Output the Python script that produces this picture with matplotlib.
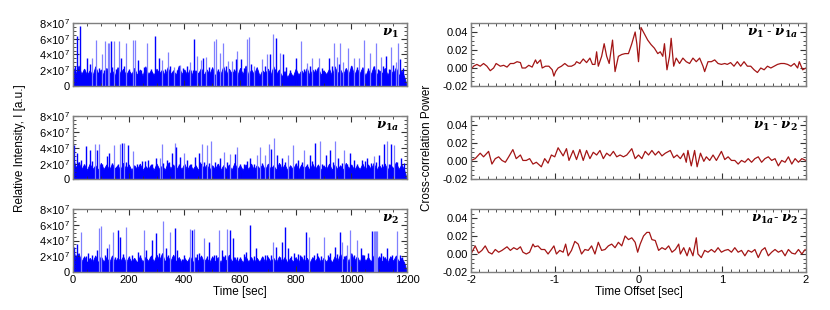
import numpy as np
import matplotlib
matplotlib.use('Agg')
import matplotlib.pyplot as plt
from matplotlib.ticker import MultipleLocator, FuncFormatter

plt.rcParams['font.family'] = ['Liberation Sans', 'DejaVu Sans']
plt.rcParams['mathtext.fontset'] = 'custom'
plt.rcParams['mathtext.rm'] = 'Liberation Sans'
plt.rcParams['mathtext.it'] = 'Liberation Sans:italic'
plt.rcParams['axes.unicode_minus'] = False

# ---------------- data: time series (relative intensity, units of 1e7) ----------------
# dense background level, sampled every 10 s
floor_step_sec = 10
floor_v1 = [2.4, 1.6, 2.6, 1.5, 2.2, 1.4, 2.0, 1.3, 2.5, 1.6, 2.1,
            1.4, 2.3, 1.5, 2.0, 1.3, 2.4, 1.6, 2.2, 1.4, 2.0,
            1.5, 2.3, 1.4, 2.1, 1.3, 2.5, 1.5, 2.0, 1.4, 2.2,
            1.6, 2.1, 1.3, 2.4, 1.5, 2.0, 1.4, 2.6, 1.5, 2.1,
            1.4, 2.2, 1.3, 2.0, 1.6, 2.3, 1.4, 2.1, 1.5, 2.4,
            1.3, 2.0, 1.5, 2.5, 1.4, 2.2, 1.6, 2.0, 1.3, 2.3,
            1.5, 2.6, 1.4, 2.1, 1.5, 2.4, 1.3, 2.0, 1.6, 2.2,
            1.4, 2.5, 1.5, 2.1, 1.2, 1.9, 1.1, 1.8, 1.2, 2.2,
            1.4, 2.0, 1.5, 2.3, 1.3, 2.1, 1.6, 2.4, 1.4, 2.0,
            1.5, 2.2, 1.3, 2.5, 1.6, 2.1, 1.4, 2.3, 1.5, 2.6,
            1.4, 2.2, 1.6, 2.4, 1.3, 2.1, 1.5, 2.5, 1.4, 2.0,
            1.6, 2.3, 1.4, 2.1, 1.5, 2.4, 1.3, 2.0, 1.2, 0.0]
floor_v1a = [2.8, 1.5, 2.2, 1.3, 1.9, 1.2, 2.0, 1.3, 1.8, 1.2, 2.1,
             1.3, 1.9, 1.2, 2.0, 1.4, 1.8, 1.2, 2.1, 1.3, 1.9,
             1.2, 1.8, 1.3, 2.0, 1.2, 1.7, 1.3, 1.9, 1.2, 2.0,
             1.3, 1.8, 1.2, 2.1, 1.4, 1.9, 1.2, 1.8, 1.3, 2.0,
             1.2, 1.9, 1.3, 1.8, 1.2, 2.0, 1.4, 1.9, 1.2, 1.8,
             1.3, 2.0, 1.2, 1.8, 1.3, 1.9, 1.2, 2.1, 1.3, 1.8,
             1.2, 1.9, 1.3, 2.0, 1.2, 1.8, 1.4, 1.9, 1.2, 2.0,
             1.3, 1.8, 1.2, 2.1, 1.3, 1.9, 1.2, 1.8, 1.3, 2.0,
             1.2, 1.9, 1.4, 1.8, 1.2, 2.0, 1.3, 1.9, 1.2, 1.8,
             1.3, 2.0, 1.2, 1.9, 1.3, 1.8, 1.2, 2.1, 1.4, 1.9,
             1.2, 1.8, 1.3, 2.0, 1.2, 1.9, 1.3, 2.1, 1.2, 1.8,
             1.3, 2.0, 1.2, 1.9, 1.4, 2.2, 1.3, 1.9, 1.2, 0.0]
floor_v2 = [3.0, 1.6, 2.4, 1.3, 2.0, 1.2, 1.8, 1.3, 2.1, 1.2, 2.0,
            1.3, 1.9, 1.2, 2.1, 1.3, 1.8, 1.4, 2.0, 1.2, 1.9,
            1.3, 1.8, 1.2, 2.0, 1.3, 1.9, 1.4, 2.1, 1.3, 2.2,
            1.5, 2.4, 1.3, 2.0, 1.4, 2.2, 1.3, 1.9, 1.2, 1.8,
            1.3, 2.0, 1.2, 1.9, 1.4, 2.1, 1.3, 1.8, 1.2, 2.0,
            1.3, 1.9, 1.2, 2.0, 1.4, 2.2, 1.3, 1.9, 1.2, 1.8,
            1.2, 2.0, 1.3, 1.9, 1.2, 1.8, 1.3, 2.0, 1.2, 1.9,
            1.3, 1.8, 1.2, 2.0, 1.3, 1.9, 1.2, 1.8, 1.3, 1.9,
            1.2, 2.0, 1.3, 1.8, 1.2, 1.9, 1.4, 2.0, 1.2, 1.8,
            1.3, 1.9, 1.2, 2.0, 1.4, 2.3, 1.5, 2.1, 1.3, 2.4,
            1.4, 2.0, 1.3, 2.2, 1.4, 1.9, 1.3, 2.1, 1.5, 2.0,
            1.3, 1.9, 1.2, 2.0, 1.4, 2.1, 1.3, 1.8, 1.2, 0.0]

# spikes: time [s], height [1e7], dark (1) or faint (0)
spk_t_v1 = [13, 26, 52, 70, 84, 103, 116, 124, 131, 136, 149, 167, 174, 191, 214, 221, 233, 265,
            295, 308, 319, 341, 364, 385, 419, 436, 447, 460, 468, 479, 505, 515, 529, 539, 557,
            571, 587, 591, 603, 625, 631, 649, 680, 698, 707, 719, 731, 743, 755, 801, 818, 839,
            859, 883, 918, 937, 949, 961, 971, 989, 1009, 1027, 1045, 1067, 1087, 1105, 1126,
            1141, 1159, 1169, 1175,
            8, 40, 60, 95, 110, 140, 155, 185, 200, 245, 255, 280, 330, 350, 375, 395, 410, 430,
            490, 520, 550, 580, 615, 640, 660, 690, 725, 765, 780, 830, 850, 870, 895, 930, 955,
            980, 1000, 1020, 1040, 1060, 1080, 1095, 1115, 1135, 1150, 1185]
spk_v_v1 = [6.4, 7.6, 3.5, 3.5, 5.9, 4.0, 5.7, 5.5, 5.5, 5.7, 5.7, 5.7, 3.5, 5.5, 5.8, 5.8, 3.3, 5.5,
            6.4, 3.5, 3.3, 4.3, 2.4, 2.7, 3.0, 6.0, 3.8, 3.3, 3.5, 3.7, 5.7, 6.0, 4.2, 5.4, 3.2,
            3.2, 3.4, 4.5, 3.4, 6.0, 6.2, 2.5, 3.4, 4.0, 4.1, 6.6, 6.1, 4.2, 4.0, 3.5, 5.7, 2.9,
            3.5, 3.5, 3.5, 5.4, 3.7, 5.5, 3.0, 4.8, 3.5, 3.5, 5.9, 4.2, 5.5, 3.7, 3.8,
            5.0, 3.1, 5.4, 3.4,
            2.5, 2.2, 2.8, 2.3, 2.0, 2.4, 2.1, 2.6, 2.2, 2.0, 2.4, 2.1, 2.2, 2.5, 2.0, 2.3, 2.6, 2.0,
            2.4, 2.2, 2.6, 2.1, 2.3, 2.8, 2.0, 2.5, 2.2, 2.4, 2.0, 2.2, 2.6, 2.1, 2.3, 2.5, 2.8,
            2.2, 2.6, 2.4, 2.0, 2.3, 2.6, 2.2, 2.5, 2.1, 2.7, 2.3]
spk_d_v1 = [1, 1, 1, 0, 0, 0, 0, 0, 0, 1, 0, 0, 1, 0, 0, 0, 1, 0,
            1, 1, 0, 0, 0, 0, 0, 1, 0, 0, 1, 0, 0, 0, 0, 0, 0,
            0, 1, 0, 1, 0, 0, 0, 0, 0, 1, 0, 1, 0, 1, 1, 0, 0,
            0, 0, 1, 0, 0, 0, 0, 0, 0, 0, 0, 0, 0, 0, 1,
            0, 0, 0, 1,
            1, 1, 1, 1, 1, 1, 1, 1, 1, 1, 1, 1, 1, 1, 1, 1, 1, 1,
            1, 1, 1, 1, 1, 1, 1, 1, 1, 1, 1, 1, 1, 1, 1, 1, 1,
            1, 1, 1, 1, 1, 1, 1, 1, 1, 1, 1]

spk_t_v1a = [3, 13, 29, 47, 61, 78, 85, 94, 121, 131, 148, 169, 175, 183, 199, 215, 247, 271, 298,
             311, 319, 337, 355, 367, 371, 385, 399, 411, 437, 451, 462, 469, 481, 497, 511, 529,
             543, 565, 583, 589, 616, 637, 661, 673, 691, 703, 711, 721, 733, 751, 771, 791, 809,
             823, 830, 851, 870, 887, 908, 925, 941, 952, 973, 995, 1009, 1039, 1057, 1081, 1099,
             1117, 1127, 1141, 1153, 1177,
             20, 40, 70, 105, 140, 160, 190, 230, 260, 285, 325, 345, 380, 425, 455, 490, 520,
             555, 600, 625, 650, 680, 745, 760, 800, 840, 860, 895, 935, 965, 985, 1020, 1050,
             1070, 1090, 1110, 1135, 1165, 1190]
spk_v_v1a = [4.3, 3.3, 2.4, 4.25, 3.7, 4.5, 3.7, 4.5, 2.9, 3.3, 4.4, 4.5, 4.6, 4.6, 4.3, 3.6, 2.3,
             2.4, 2.7, 2.7, 4.5, 2.4, 3.3, 4.6, 4.1, 2.8, 3.4, 2.4, 2.8, 3.3, 4.5, 2.2, 4.3, 4.8,
             2.2, 2.7, 3.5, 3.2, 3.2, 4.1, 2.0, 2.7, 3.1, 4.1, 3.1, 4.5, 3.9, 5.2, 3.1, 2.7, 3.1,
             4.3, 2.4, 2.2, 3.7, 3.1, 4.6, 4.9, 3.1, 3.7, 4.8, 2.7, 3.7, 3.3, 2.5, 2.4, 2.7, 2.9,
             3.1, 4.5, 4.8, 4.5, 4.3, 2.7,
             2.2, 2.0, 2.3, 1.9, 2.1, 2.0, 2.2, 1.9, 2.3, 2.0, 2.1, 2.2, 1.9, 2.0, 2.2, 2.1, 1.9,
             2.2, 2.0, 2.3, 1.9, 2.1, 2.0, 2.2, 2.1, 1.9, 2.3, 2.0, 2.2, 2.1, 1.9, 2.0, 2.3,
             2.1, 2.2, 1.9, 2.0, 2.2, 2.1]
spk_d_v1a = [1, 1, 1, 1, 1, 0, 1, 0, 1, 1, 0, 0, 1, 0, 1, 0, 1, 1, 1,
             0, 0, 1, 1, 0, 1, 1, 0, 1, 1, 1, 0, 1, 0, 0, 1, 1,
             0, 0, 1, 0, 1, 1, 0, 0, 0, 0, 1, 0, 1, 1, 0, 0, 1,
             1, 0, 1, 1, 0, 1, 1, 0, 1, 0, 1, 1, 1, 1, 0, 1,
             1, 0, 1, 0, 1,
             1, 1, 1, 1, 1, 1, 1, 1, 1, 1, 1, 1, 1, 1, 1, 1, 1,
             1, 1, 1, 1, 1, 1, 1, 1, 1, 1, 1, 1, 1, 1, 1, 1,
             1, 1, 1, 1, 1, 1]

spk_t_v2 = [3, 15, 29, 67, 85, 94, 101, 122, 131, 145, 163, 169, 190, 211, 233, 256, 263, 283, 299,
            323, 333, 349, 367, 373, 391, 419, 427, 433, 451, 469, 487, 505, 525, 535, 553, 563,
            575, 601, 623, 637, 657, 679, 697, 719, 731, 751, 761, 771, 793, 817, 837, 849, 877,
            903, 923, 940, 959, 967, 985, 995, 1021, 1033, 1073, 1081, 1085, 1089, 1093, 1105,
            1129, 1165, 1183,
            10, 45, 55, 115, 150, 180, 200, 240, 275, 310, 340, 360, 400, 445, 480, 515, 545,
            590, 615, 650, 690, 710, 745, 785, 810, 830, 865, 890, 915, 950, 975, 1010, 1045,
            1060, 1115, 1145, 1175]
spk_v_v2 = [3.2, 3.6, 5.1, 2.1, 2.8, 5.6, 5.8, 3.0, 3.6, 5.1, 5.3, 4.5, 5.7, 2.1, 2.6, 5.3, 2.8,
            4.1, 4.9, 6.5, 3.0, 5.1, 5.6, 2.8, 1.7, 5.4, 5.3, 5.5, 2.4, 4.3, 3.8, 2.1, 5.3, 2.8,
            5.4, 5.3, 4.3, 1.9, 2.6, 6.0, 3.0, 1.9, 2.2, 3.8, 3.2, 3.8, 5.7, 3.0, 2.4, 2.1, 5.1,
            4.5, 2.4, 4.5, 2.4, 3.2, 5.1, 3.8, 3.4, 5.3, 4.1, 3.0, 5.2, 5.2, 5.2, 5.2, 5.2, 2.4,
            3.0, 5.2, 1.9,
            2.2, 2.0, 2.4, 2.1, 1.9, 2.3, 2.0, 2.2, 1.9, 2.4, 2.1, 2.0, 2.2, 2.3, 2.0, 2.1, 2.2,
            1.9, 2.3, 2.0, 2.1, 2.2, 1.9, 2.0, 2.3, 2.1, 2.2, 2.0, 2.1, 2.3, 2.0, 2.2, 2.1,
            2.4, 2.0, 2.2, 2.1]
spk_d_v2 = [1, 1, 0, 1, 1, 0, 0, 1, 0, 0, 1, 1, 0, 1, 1, 0, 1, 1, 1,
            0, 1, 0, 1, 1, 1, 0, 1, 0, 1, 0, 1, 1, 0, 1, 0, 1,
            1, 1, 1, 1, 1, 1, 1, 0, 1, 1, 1, 1, 1, 1, 1, 0, 1,
            0, 1, 1, 1, 0, 0, 0, 0, 1, 1, 0, 0, 0, 0, 1,
            1, 0, 1,
            1, 1, 1, 1, 1, 1, 1, 1, 1, 1, 1, 1, 1, 1, 1, 1, 1,
            1, 1, 1, 1, 1, 1, 1, 1, 1, 1, 1, 1, 1, 1, 1, 1,
            1, 1, 1, 1]

series_labels = [r'$\mathbfit{\nu}_\mathbf{1}$', r'$\mathbfit{\nu}_{\mathbf{1}\mathbfit{a}}$',
                 r'$\mathbfit{\nu}_\mathbf{2}$']

# ---------------- data: cross-correlation ----------------
lag_12a = [-2.00, -1.97, -1.93, -1.89, -1.85, -1.81, -1.77, -1.73, -1.70, -1.65, -1.61, -1.57,
           -1.53, -1.49, -1.45, -1.41, -1.39, -1.35, -1.31, -1.27, -1.23, -1.21, -1.17, -1.15,
           -1.11, -1.07, -1.03, -1.01, -0.99, -0.96, -0.92, -0.88, -0.84, -0.80, -0.76, -0.74,
           -0.70, -0.66, -0.62, -0.58, -0.55, -0.52, -0.50, -0.48, -0.44, -0.41, -0.38, -0.35,
           -0.31, -0.28, -0.24, -0.20, -0.16, -0.12, -0.08, -0.04, -0.02, 0.00, 0.03, 0.07,
           0.11, 0.15, 0.19, 0.23, 0.26, 0.29, 0.31, 0.34, 0.37, 0.39, 0.42, 0.45, 0.49, 0.53,
           0.57, 0.61, 0.65, 0.69, 0.73, 0.77, 0.79, 0.83, 0.87, 0.91, 0.95, 0.99, 1.03, 1.06,
           1.10, 1.14, 1.18, 1.22, 1.26, 1.30, 1.34, 1.38, 1.42, 1.46, 1.50, 1.54, 1.58, 1.62,
           1.66, 1.70, 1.74, 1.78, 1.82, 1.86, 1.90, 1.92, 1.96, 2.00]
cc_12a = [-0.002, 0.002, 0.004, 0.002, 0.005, 0.002, -0.003, 0.000, 0.005, 0.002, 0.003, 0.001,
          0.005, 0.005, 0.007, 0.006, 0.000, 0.000, 0.003, 0.001, 0.009, 0.005, 0.009, 0.000,
          0.002, 0.002, -0.002, -0.009, -0.004, 0.000, 0.002, 0.005, 0.002, 0.002, 0.004, 0.007,
          0.005, 0.010, 0.006, 0.011, 0.004, 0.004, 0.018, 0.002, 0.013, 0.027, 0.013, 0.005,
          0.031, -0.004, 0.013, 0.015, 0.016, 0.016, 0.027, 0.040, 0.027, 0.007, 0.045, 0.038,
          0.031, 0.026, 0.022, 0.016, 0.018, 0.013, 0.027, -0.002, 0.013, 0.033, 0.002, 0.011,
          0.005, 0.011, 0.007, 0.005, 0.011, 0.007, 0.011, 0.002, -0.004, 0.007, 0.007, 0.009,
          0.005, 0.004, 0.005, 0.004, 0.006, 0.002, 0.007, 0.002, 0.007, 0.002, 0.002, -0.002,
          -0.005, 0.000, -0.002, 0.002, 0.000, 0.002, 0.004, 0.005, 0.005, 0.004, 0.002, 0.005,
          0.000, 0.007, -0.002, 0.000]

lag_12 = [-2.00, -1.95, -1.89, -1.85, -1.79, -1.75, -1.71, -1.67, -1.63, -1.59, -1.55, -1.50,
          -1.46, -1.41, -1.38, -1.34, -1.30, -1.26, -1.22, -1.16, -1.12, -1.08, -1.04, -1.00,
          -0.96, -0.94, -0.90, -0.86, -0.83, -0.78, -0.74, -0.70, -0.66, -0.62, -0.58, -0.54,
          -0.50, -0.46, -0.42, -0.38, -0.34, -0.30, -0.26, -0.22, -0.18, -0.14, -0.08, -0.04,
          0.00, 0.04, 0.08, 0.12, 0.16, 0.20, 0.24, 0.28, 0.32, 0.38, 0.42, 0.46, 0.50, 0.54,
          0.57, 0.59, 0.63, 0.67, 0.70, 0.74, 0.78, 0.81, 0.85, 0.89, 0.93, 0.99, 1.03, 1.07,
          1.11, 1.15, 1.19, 1.23, 1.27, 1.31, 1.35, 1.39, 1.43, 1.47, 1.51, 1.55, 1.59, 1.63,
          1.67, 1.71, 1.75, 1.79, 1.83, 1.87, 1.91, 1.95, 2.00]
cc_12 = [0.001, 0.003, 0.009, 0.005, 0.011, -0.003, 0.003, 0.005, 0.001, -0.001, 0.005, 0.013,
         0.003, 0.007, 0.001, 0.001, 0.003, -0.003, -0.001, -0.006, 0.003, -0.002, 0.007, 0.005,
         0.015, 0.012, 0.006, 0.014, 0.001, 0.012, 0.002, 0.013, 0.001, 0.012, 0.003, 0.010,
         0.007, 0.012, 0.003, 0.009, 0.006, 0.011, 0.005, 0.007, 0.005, 0.007, 0.014, 0.003,
         0.007, 0.003, 0.011, 0.007, 0.012, 0.007, 0.011, 0.006, 0.009, 0.012, 0.004, 0.007,
         0.003, 0.009, -0.001, 0.012, -0.005, 0.012, -0.006, 0.009, 0.000, 0.005, 0.001, 0.007,
         0.001, 0.011, 0.002, 0.005, 0.001, 0.001, -0.003, 0.001, -0.001, 0.003, -0.001, 0.003,
         0.005, -0.001, 0.003, 0.005, 0.001, 0.003, -0.005, 0.001, -0.001, 0.005, -0.003, 0.003,
         -0.001, 0.003, 0.001]

lag_1a2 = [-2.00, -1.95, -1.91, -1.87, -1.83, -1.79, -1.75, -1.71, -1.67, -1.63, -1.57, -1.53,
           -1.49, -1.45, -1.41, -1.38, -1.34, -1.30, -1.26, -1.24, -1.20, -1.16, -1.12, -1.08,
           -1.04, -1.01, -0.98, -0.94, -0.90, -0.87, -0.84, -0.80, -0.76, -0.72, -0.68, -0.64,
           -0.60, -0.56, -0.52, -0.48, -0.44, -0.40, -0.36, -0.32, -0.28, -0.24, -0.20, -0.16,
           -0.12, -0.08, -0.04, -0.01, 0.02, 0.06, 0.10, 0.13, 0.16, 0.20, 0.24, 0.28, 0.32,
           0.36, 0.40, 0.44, 0.48, 0.50, 0.54, 0.58, 0.61, 0.65, 0.69, 0.71, 0.75, 0.79, 0.83,
           0.87, 0.91, 0.95, 0.99, 1.03, 1.07, 1.11, 1.15, 1.19, 1.23, 1.27, 1.31, 1.35, 1.39,
           1.43, 1.47, 1.51, 1.55, 1.59, 1.63, 1.67, 1.71, 1.75, 1.79, 1.83, 1.87, 1.91, 1.95,
           1.99]
cc_1a2 = [0.000, 0.009, 0.001, 0.004, 0.009, 0.002, 0.000, 0.005, 0.002, 0.004, 0.008, 0.004,
          0.007, 0.005, 0.008, 0.002, 0.000, 0.002, 0.011, 0.008, 0.009, 0.005, 0.005, 0.000,
          0.005, 0.009, 0.000, 0.004, 0.002, 0.011, -0.002, 0.004, 0.014, 0.011, 0.000, 0.005,
          0.004, 0.009, 0.000, 0.013, 0.004, 0.005, 0.009, 0.011, 0.007, 0.013, 0.009, 0.020,
          0.016, 0.018, 0.013, 0.002, 0.011, 0.020, 0.024, 0.024, 0.016, 0.015, 0.004, 0.007,
          0.005, 0.009, 0.002, 0.005, 0.011, 0.000, 0.007, -0.002, 0.007, -0.002, 0.018, 0.000,
          -0.004, 0.004, 0.002, 0.005, 0.002, 0.007, 0.002, 0.004, 0.005, 0.002, 0.007, 0.002,
          0.004, -0.002, 0.004, 0.002, 0.005, -0.004, 0.004, 0.007, -0.002, 0.002, 0.005, 0.002,
          0.004, -0.002, 0.005, 0.001, 0.000, 0.005, 0.000, 0.005]

pair_labels = [r'$\mathbfit{\nu}_\mathbf{1}$ - $\mathbfit{\nu}_{\mathbf{1}\mathbfit{a}}$',
               r'$\mathbfit{\nu}_\mathbf{1}$ - $\mathbfit{\nu}_\mathbf{2}$',
               r'$\mathbfit{\nu}_{\mathbf{1}\mathbfit{a}}$- $\mathbfit{\nu}_\mathbf{2}$']

# ---------------- figure ----------------
W, H = 830, 310
fig = plt.figure(figsize=(W / 100, H / 100), dpi=100)

left_x0, left_x1 = 73, 407
right_x0, right_x1 = 471, 806
rows = [(23, 86), (116, 179.5), (209, 272)]

SPINE = '#7f7f7f'
DARK = '#0000ff'
LIGHT = '#8080ff'
LINE = '#a31515'


def style(ax, xmaj, xmin, ymaj, ymin):
    for s in ax.spines.values():
        s.set_color(SPINE)
        s.set_linewidth(1.0)
    ax.xaxis.set_major_locator(MultipleLocator(xmaj))
    ax.xaxis.set_minor_locator(MultipleLocator(xmin))
    ax.yaxis.set_major_locator(MultipleLocator(ymaj))
    ax.yaxis.set_minor_locator(MultipleLocator(ymin))
    ax.tick_params(which='both', direction='in', top=True, right=True, color='#333333',
                   labelsize=8, pad=2)
    ax.tick_params(which='major', length=4, width=0.8)
    ax.tick_params(which='minor', length=2, width=0.6)


def ts_fmt(v, pos):
    if abs(v) < 1:
        return '0'
    return r'%d$\times$10$^{7}$' % int(round(v / 1e7))


floors = [floor_v1, floor_v1a, floor_v2]
spikes = [(spk_t_v1, spk_v_v1, spk_d_v1), (spk_t_v1a, spk_v_v1a, spk_d_v1a),
          (spk_t_v2, spk_v_v2, spk_d_v2)]
ccs = [(lag_12a, cc_12a), (lag_12, cc_12), (lag_1a2, cc_1a2)]

for i, (y0, y1) in enumerate(rows):
    # left: time series
    axl = fig.add_axes([left_x0 / W, 1 - y1 / H, (left_x1 - left_x0) / W, (y1 - y0) / H])
    fl = np.array(floors[i]) * 1e7
    ft = np.arange(len(fl)) * floor_step_sec
    st, sv, sd = (np.array(a) for a in spikes[i])
    light = sd == 0
    axl.vlines(st[light], 0, sv[light] * 1e7, color=LIGHT, lw=0.9)
    axl.vlines(st[~light], 0, sv[~light] * 1e7, color=DARK, lw=1.0)
    axl.fill_between(ft, 0, fl, color=DARK, lw=0.6, edgecolor=DARK)
    axl.set_xlim(0, 1200)
    axl.set_ylim(0, 8e7)
    style(axl, 200, 50, 2e7, 0.5e7)
    axl.yaxis.set_major_formatter(FuncFormatter(ts_fmt))
    if i < 2:
        axl.tick_params(labelbottom=False)
    else:
        axl.set_xlabel('Time [sec]', fontsize=8.5, labelpad=1)
    axl.text(0.975, 0.84, series_labels[i], transform=axl.transAxes, ha='right', va='center',
             fontsize=9.5, math_fontfamily='dejavuserif')

    # right: cross-correlation
    axr = fig.add_axes([right_x0 / W, 1 - y1 / H, (right_x1 - right_x0) / W, (y1 - y0) / H])
    lag, cc = ccs[i]
    axr.plot(lag, cc, color=LINE, lw=0.9)
    axr.set_xlim(-2, 2)
    axr.set_ylim(-0.02, 0.05)
    style(axr, 1, 0.1, 0.02, 0.005)
    axr.yaxis.set_major_formatter(FuncFormatter(lambda v, p: '%.2f' % v))
    axr.xaxis.set_major_formatter(FuncFormatter(lambda v, p: '%d' % round(v)))
    if i < 2:
        axr.tick_params(labelbottom=False)
    else:
        axr.set_xlabel('Time Offset [sec]', fontsize=8.5, labelpad=1)
    axr.text(0.975, 0.84, pair_labels[i], transform=axr.transAxes, ha='right', va='center',
             fontsize=9.5, math_fontfamily='dejavuserif')

fig.text(20 / W, 1 - 148 / H, 'Relative Intensity, I [a.u.]', rotation=90, ha='center',
         va='center', fontsize=8.5)
fig.text(427 / W, 1 - 148 / H, 'Cross-correlation Power', rotation=90, ha='center',
         va='center', fontsize=8.5)

fig.savefig('out.png', dpi=100)
